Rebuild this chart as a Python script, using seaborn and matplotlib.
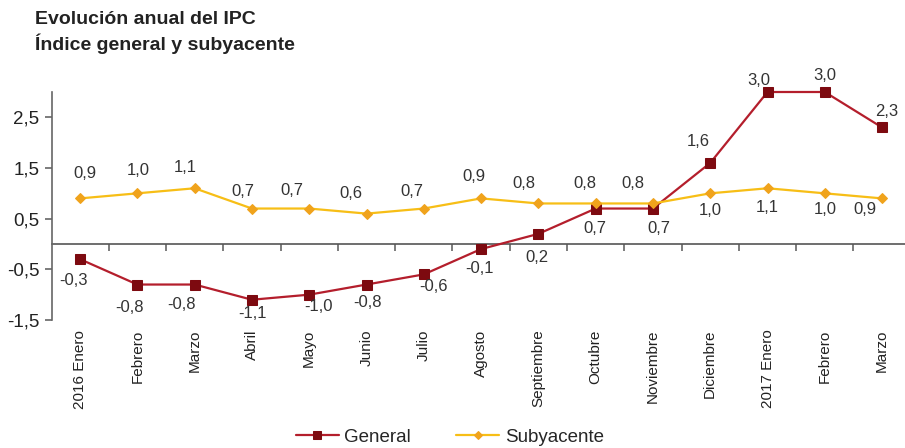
import numpy as np
import pandas as pd
import seaborn as sns
import matplotlib
matplotlib.use('Agg')
import matplotlib.pyplot as plt

# datos
meses = ['2016 Enero', 'Febrero', 'Marzo', 'Abril', 'Mayo', 'Junio', 'Julio',
         'Agosto', 'Septiembre', 'Octubre', 'Noviembre', 'Diciembre',
         '2017 Enero', 'Febrero', 'Marzo']
general = [-0.3, -0.8, -0.8, -1.1, -1.0, -0.8, -0.6, -0.1, 0.2, 0.7, 0.7, 1.6, 3.0, 3.0, 2.3]
subyacente = [0.9, 1.0, 1.1, 0.7, 0.7, 0.6, 0.7, 0.9, 0.8, 0.8, 0.8, 1.0, 1.1, 1.0, 0.9]
y_ticks = [-1.5, -0.5, 0.5, 1.5, 2.5]
y_ticklabels = ['-1,5', '-0,5', '0,5', '1,5', '2,5']

# desplazamiento de las etiquetas (pixeles)
off_general = [(-7, -21), (-8, -23), (-13, -20), (1, -14), (9, -12), (1, -18), (10, -12),
               (-2, -19), (-1, -24), (-1, -20), (6, -20), (-12, 21), (-9, 12), (0, 17), (5, 16)]
off_subyacente = [(5, 25), (1, 23), (-9, 21), (-9, 17), (-17, 18), (-16, 20), (-12, 17),
                  (-7, 22), (-14, 20), (-11, 20), (-20, 20), (0, -17), (0, -19), (0, -16), (-17, -11)]

sns.set_style('white')
plt.rcParams['font.family'] = ['Liberation Sans', 'DejaVu Sans']

df = pd.DataFrame({'pos': np.arange(len(meses)), 'General': general, 'Subyacente': subyacente})

fig = plt.figure(figsize=(9.05, 4.48), dpi=100)
ax = fig.add_axes([52 / 905, 1 - 320 / 448, (905 - 52) / 905, (320 - 92) / 448])

sns.lineplot(data=df, x='pos', y='General', ax=ax, color='#B41E2C', lw=1.6,
             marker='s', markersize=7, markerfacecolor='#7D0A10', markeredgecolor='#7D0A10',
             label='General', clip_on=False)
sns.lineplot(data=df, x='pos', y='Subyacente', ax=ax, color='#F7BE16', lw=1.6,
             marker='D', markersize=5, markerfacecolor='#F0A31C', markeredgecolor='#F0A31C',
             label='Subyacente', clip_on=False)

ymin, ymax = -1.5, 3.0
ax.set_ylim(ymin, ymax)
ax.set_xlim(-0.49, 14.4)

ax.set_yticks(y_ticks)
ax.set_yticklabels(y_ticklabels)
ax.set_xticks(df['pos'])
ax.set_xticklabels(meses, rotation=90)
ax.tick_params(axis='x', length=0, pad=7, labelsize=11, labelcolor='#222222')
ax.tick_params(axis='y', left=True, direction='out', length=5, width=1.2, color='#666666',
               pad=4, labelsize=13.5, labelcolor='#222222')
ax.set_xlabel('')
ax.set_ylabel('')

for s in ['top', 'right', 'bottom']:
    ax.spines[s].set_visible(False)
ax.spines['left'].set_color('#666666')
ax.spines['left'].set_linewidth(1.2)

# eje en cero con marcas entre categorias
sec = ax.secondary_xaxis((0 - ymin) / (ymax - ymin))
sec.set_xticks(np.arange(0.5, len(meses) - 1, 1))
sec.set_xticklabels([])
sec.tick_params(direction='out', length=5, width=1.2, color='#666666')
for s in sec.spines.values():
    s.set_color('#555555')
    s.set_linewidth(1.2)

for i, v in enumerate(general):
    ax.annotate(f'{v:.1f}'.replace('.', ','), (i, v), xytext=off_general[i],
                textcoords='offset pixels', ha='center', va='center', fontsize=12, color='#333333')
for i, v in enumerate(subyacente):
    ax.annotate(f'{v:.1f}'.replace('.', ','), (i, v), xytext=off_subyacente[i],
                textcoords='offset pixels', ha='center', va='center', fontsize=12, color='#333333')

ax.get_legend().remove()
h, l = ax.get_legend_handles_labels()
fig.legend(h, l, loc='center', bbox_to_anchor=(0.497, 1 - 437 / 448), ncol=2,
           frameon=False, fontsize=13.5, handlelength=2.3, handletextpad=0.3, columnspacing=2.4,
           markerscale=0.8)

fig.text(35 / 905, 1 - 19.5 / 448, 'Evolución anual del IPC', fontsize=14, fontweight='bold',
         color='#222222', va='center', ha='left')
fig.text(35 / 905, 1 - 43.5 / 448, 'Índice general y subyacente', fontsize=14, fontweight='bold',
         color='#222222', va='center', ha='left')

fig.savefig('out.png', dpi=100)
